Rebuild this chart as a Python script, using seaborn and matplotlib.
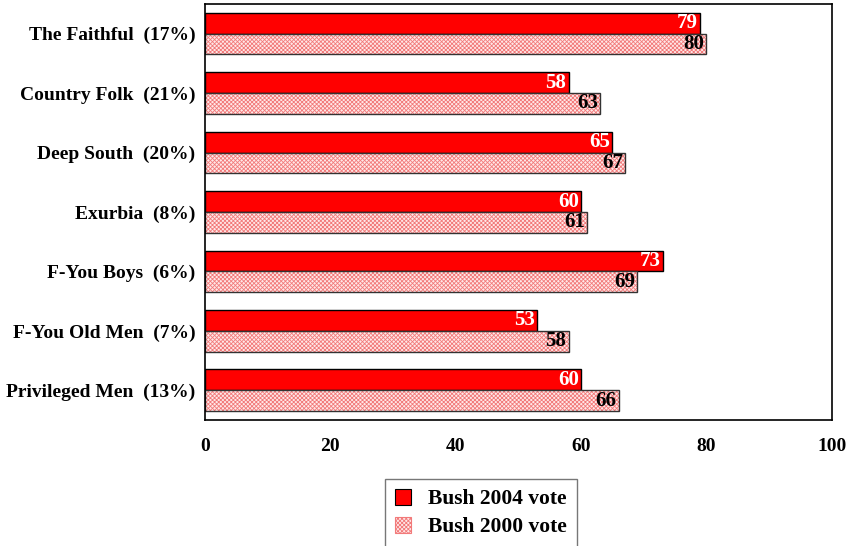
import numpy as np
import pandas as pd
import seaborn as sns
import matplotlib as mpl
from matplotlib import pyplot as plt
from matplotlib.patches import Rectangle, Patch

# Data
groups = ["The Faithful  (17%)", "Country Folk  (21%)", "Deep South  (20%)", "Exurbia  (8%)",
          "F-You Boys  (6%)", "F-You Old Men  (7%)", "Privileged Men  (13%)"]
vote_2004 = [79, 58, 65, 60, 73, 53, 60]
vote_2000 = [80, 63, 67, 61, 69, 58, 66]
series = ["Bush 2004 vote", "Bush 2000 vote"]
xticks = [0, 20, 40, 60, 80, 100]

df = pd.DataFrame({
    "group": groups * 2,
    "vote": vote_2004 + vote_2000,
    "series": [series[0]] * len(groups) + [series[1]] * len(groups),
})

sns.set_style("white")
plt.rcParams['font.family'] = ['Liberation Serif', 'DejaVu Serif']
plt.rcParams['font.weight'] = 'bold'
plt.rcParams['text.color'] = 'black'
plt.rcParams['xtick.color'] = 'black'
plt.rcParams['ytick.color'] = 'black'
plt.rcParams['hatch.linewidth'] = 0.6

fig = plt.figure(figsize=(8.47, 5.46), dpi=100)
ax = fig.add_axes([0.242, 0.2308, 0.740, 0.762])

sns.barplot(data=df, y="group", x="vote", hue="series", orient="h",
            palette=["#FF0000", "#FFFFFF"], width=0.7, gap=0, ax=ax,
            legend=False, saturation=1)

red_bars = ax.containers[0]
pink_bars = ax.containers[1]
for p in red_bars:
    p.set_edgecolor("black")
    p.set_linewidth(1.0)
for p in pink_bars:
    p.set_facecolor("#FFE8E8")
    p.set_edgecolor("#F27A7A")
    p.set_hatch("xxxxxxxx")
    p.set_linewidth(0)
    ax.add_patch(Rectangle(p.get_xy(), p.get_width(), p.get_height(), fill=False,
                           edgecolor="#333333", linewidth=1.0, zorder=p.get_zorder() + 0.1))

for cont, col in [(red_bars, "white"), (pink_bars, "black")]:
    texts = ax.bar_label(cont, padding=-1.5, color=col, fontsize=15, fontweight="bold")
    for t in texts:
        t.set_ha("right")

ax.set_xlim(0, 100)
ax.set_ylim(len(groups) - 0.5, -0.5)
ax.set_xticks(xticks)
ax.set_xticklabels([str(v) for v in xticks], fontsize=14, fontweight="bold", color="black")
ax.set_yticks(range(len(groups)))
ax.set_yticklabels(groups, fontsize=14, fontweight="bold", color="black")
ax.tick_params(axis="y", which="major", length=0, pad=7)
ax.set_yticks(np.arange(-0.5, len(groups), 1), minor=True)
ax.tick_params(axis="y", which="minor", length=6, width=1, color="black", direction="out")
ax.tick_params(axis="x", which="major", length=6, width=1, color="black", direction="out", pad=7)
ax.set_xlabel("")
ax.set_ylabel("")
for s in ax.spines.values():
    s.set_color("black")
    s.set_linewidth(1.2)

handles = [Patch(facecolor="#FF0000", edgecolor="black", linewidth=0.8),
           Patch(facecolor="#FFE8E8", edgecolor="#F27A7A", hatch="xxxxxxxx", linewidth=0.8)]
leg = fig.legend(handles, series, loc="center", bbox_to_anchor=(481 / 847, 1 - 513 / 546),
                 frameon=True, fancybox=False, edgecolor="#555555",
                 prop={"weight": "bold", "size": 15.5}, handlelength=0.75, handleheight=0.75,
                 borderpad=0.45, labelspacing=0.35, handletextpad=0.8, borderaxespad=0)
leg.get_frame().set_linewidth(1.0)
for t in leg.get_texts():
    t.set_color("black")

fig.savefig("out.png", dpi=100)
